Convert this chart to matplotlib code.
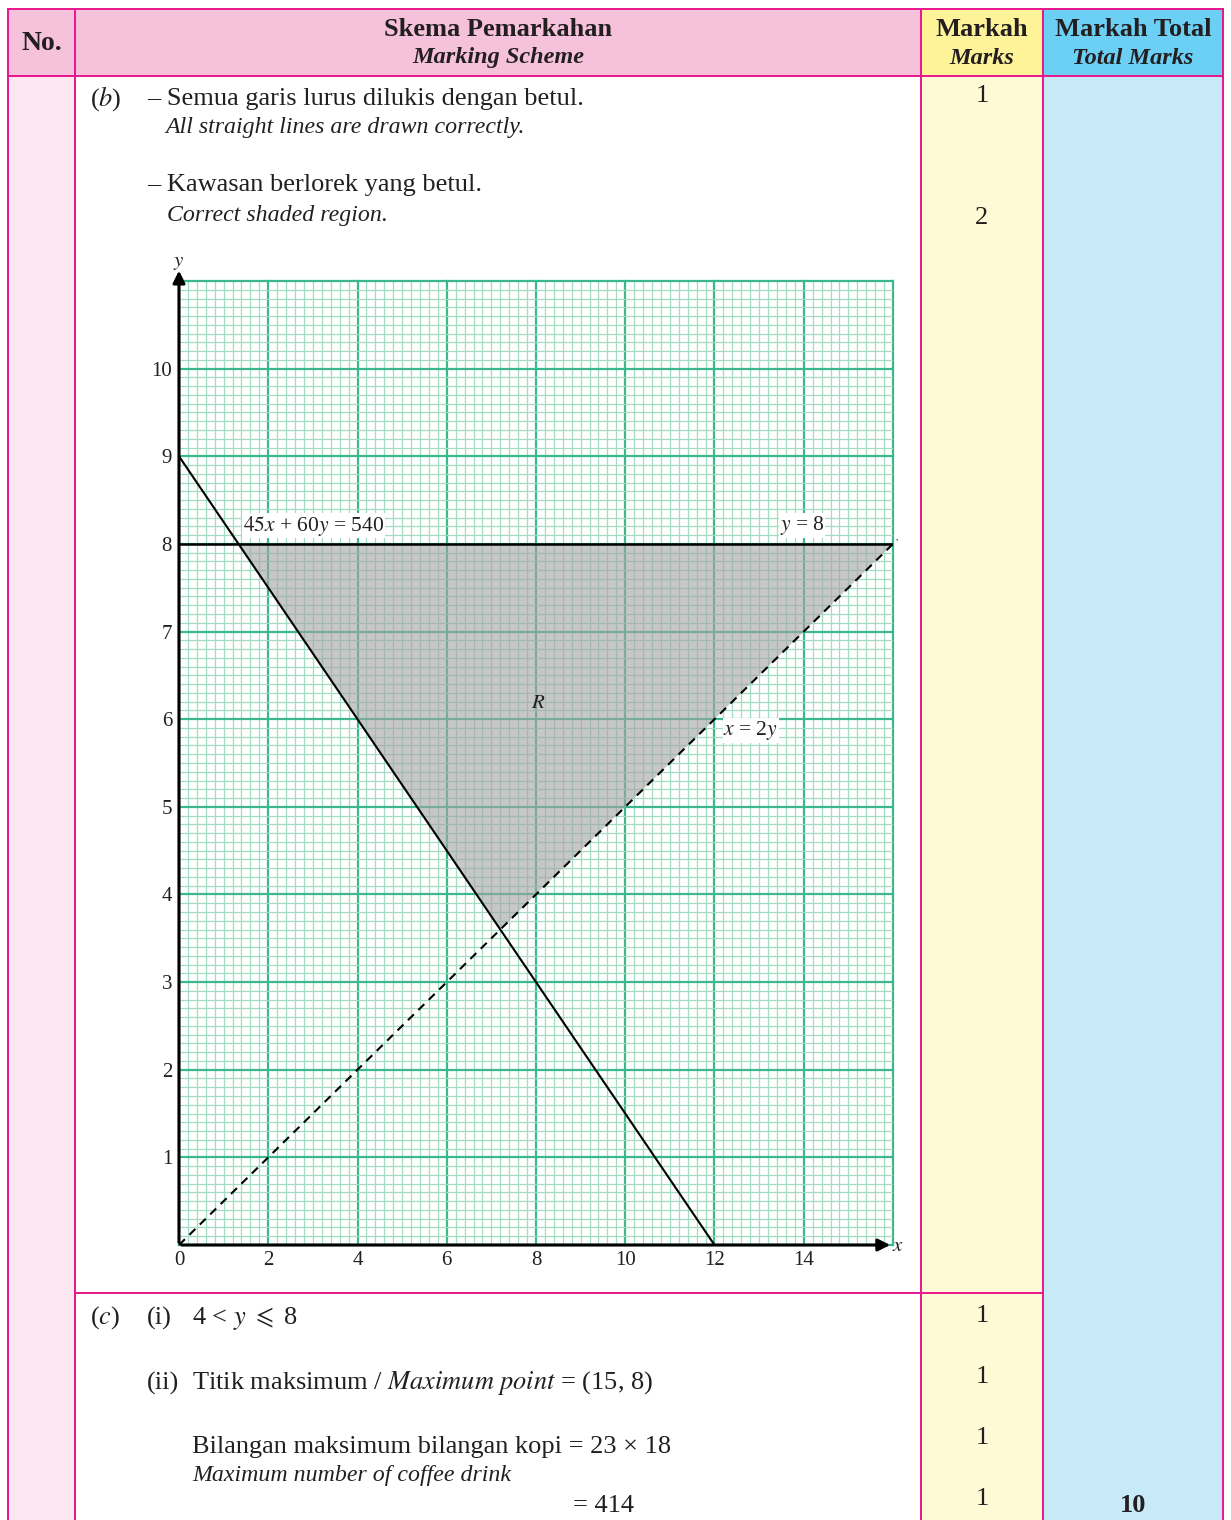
import matplotlib
matplotlib.use('Agg')
import matplotlib.pyplot as plt
from matplotlib.patches import Rectangle, Polygon
import numpy as np

plt.rcParams['font.family'] = ['Liberation Serif', 'DejaVu Serif']
plt.rcParams['mathtext.fontset'] = 'stix'

x_tick_vals = [0, 2, 4, 6, 8, 10, 12, 14]
y_tick_vals = [1, 2, 3, 4, 5, 6, 7, 8, 9, 10]

# 45x + 60y = 540
line1_x = [0, 12]
line1_y = [9, 0]
# y = 8
line2_x = [0, 16]
line2_y = [8, 8]
# x = 2y (dashed)
line3_x = [0, 16.1]
line3_y = [0, 8.05]
# shaded region R
region_x = [1.333, 16, 7.2]
region_y = [8, 8, 3.6]

marks_b = ['1', '2']
marks_c = ['1', '1', '1', '1']
total_marks = '10'

# colours
border = '#e8168c'
pink_head = '#f6c1da'
yellow_head = '#fff39a'
cyan_head = '#6ccff4'
pink_body = '#fde7f1'
yellow_body = '#fffad6'
cyan_body = '#c7e9f8'
grid_major = '#3cb98c'
grid_minor = '#a3dcc1'

W, H = 1231, 1520
fig = plt.figure(figsize=(W / 100, H / 100), dpi=100)
bg = fig.add_axes([0, 0, 1, 1])
bg.set_xlim(0, W)
bg.set_ylim(H, 0)
bg.axis('off')

# column edges
c0, c1, c2, c3, c4 = 8, 75, 921, 1043, 1223
top, head_bot, row_div = 9, 76, 1293

# header cells
bg.add_patch(Rectangle((c0, top), c2 - c0, head_bot - top, color=pink_head, lw=0))
bg.add_patch(Rectangle((c2, top), c3 - c2, head_bot - top, color=yellow_head, lw=0))
bg.add_patch(Rectangle((c3, top), c4 - c3, head_bot - top, color=cyan_head, lw=0))
# body cells
bg.add_patch(Rectangle((c0, head_bot), c1 - c0, H - head_bot, color=pink_body, lw=0))
bg.add_patch(Rectangle((c2, head_bot), c3 - c2, H - head_bot, color=yellow_body, lw=0))
bg.add_patch(Rectangle((c3, head_bot), c4 - c3, H - head_bot, color=cyan_body, lw=0))

lw = 1.4
bg.plot([c0, c4], [top, top], color=border, lw=lw)
bg.plot([c0, c4], [head_bot, head_bot], color=border, lw=lw)
bg.plot([c1, c3], [row_div, row_div], color=border, lw=lw)
for cx in [c0, c1, c2, c3, c4]:
    bg.plot([cx, cx], [top, H], color=border, lw=lw)

txt = '#231f20'
hs = 19
hsi = 17.5
# header text
bg.text((c0 + c1) / 2, 43, 'No.', ha='center', va='center', fontsize=20, weight='bold', color=txt)
bg.text((c1 + c2) / 2, 30, 'Skema Pemarkahan', ha='center', va='center', fontsize=hs, weight='bold', color=txt)
bg.text((c1 + c2) / 2, 58, 'Marking Scheme', ha='center', va='center', fontsize=hsi, weight='bold', style='italic', color=txt)
bg.text((c2 + c3) / 2, 30, 'Markah', ha='center', va='center', fontsize=hs, weight='bold', color=txt)
bg.text((c2 + c3) / 2, 58, 'Marks', ha='center', va='center', fontsize=hsi, weight='bold', style='italic', color=txt)
bg.text((c3 + c4) / 2, 30, 'Markah Total', ha='center', va='center', fontsize=hs, weight='bold', color=txt)
bg.text((c3 + c4) / 2, 58, 'Total Marks', ha='center', va='center', fontsize=hsi, weight='bold', style='italic', color=txt)

fs = 19
fsi = 17.2
# part (b)
bg.text(90, 99, r'($\mathit{b}$)', va='center', fontsize=fs, color=txt)
bg.text(147, 99, '– Semua garis lurus dilukis dengan betul.', va='center', fontsize=fs, color=txt)
bg.text(165, 127, 'All straight lines are drawn correctly.', va='center', fontsize=fsi, style='italic', color=txt)
bg.text(147, 185, '– Kawasan berlorek yang betul.', va='center', fontsize=fs, color=txt)
bg.text(167, 215, 'Correct shaded region.', va='center', fontsize=fsi, style='italic', color=txt)
for m, yy in zip(marks_b, [96, 218]):
    bg.text((c2 + c3) / 2, yy, m, ha='center', va='center', fontsize=fs, color=txt)

# part (c)
bg.text(90, 1318, r'($\mathit{c}$)', va='center', fontsize=fs, color=txt)
bg.text(147, 1318, '(i)', va='center', fontsize=fs, color=txt)
bg.text(192, 1318, r'4 < $y$ $\leqslant$ 8', va='center', fontsize=fs, color=txt)
bg.text(147, 1383, '(ii)', va='center', fontsize=fs, color=txt)
bg.text(192, 1383, r'Titik maksimum / $\mathit{Maximum\ point}$ = (15, 8)', va='center', fontsize=fs, color=txt)
bg.text(192, 1447, 'Bilangan maksimum bilangan kopi = 23 × 18', va='center', fontsize=fs, color=txt)
bg.text(192, 1476, 'Maximum number of coffee drink', va='center', fontsize=fsi, style='italic', color=txt)
bg.text(573, 1506, '= 414', va='center', fontsize=fs, color=txt)
for m, yy in zip(marks_c, [1316, 1377, 1438, 1499]):
    bg.text((c2 + c3) / 2, yy, m, ha='center', va='center', fontsize=fs, color=txt)
bg.text((c3 + c4) / 2, 1506, total_marks, ha='center', va='center', fontsize=fs, weight='bold', color=txt)

# --- graph ---
gx0, gx1 = 179, 893
gy0, gy1 = 1245, 281
ax = fig.add_axes([gx0 / W, (H - gy0) / H, (gx1 - gx0) / W, (gy0 - gy1) / H])
ax.set_facecolor('none')
ax.set_xlim(0, 16)
ax.set_ylim(0, 11)
ax.set_xticks(np.arange(0, 16.01, 2))
ax.set_xticks(np.arange(0, 16.01, 0.2), minor=True)
ax.set_yticks(np.arange(0, 11.01, 1))
ax.set_yticks(np.arange(0, 11.01, 0.1), minor=True)
ax.set_xticklabels([str(v) if v in x_tick_vals else '' for v in range(0, 17, 2)])
ax.set_yticklabels([str(v) if v in y_tick_vals else '' for v in range(0, 12)])
ax.tick_params(which='both', length=0)
ax.tick_params(axis='x', pad=4, labelsize=15, labelcolor=txt)
ax.tick_params(axis='y', pad=5, labelsize=15, labelcolor=txt)
ax.grid(which='minor', color=grid_minor, lw=0.9)
ax.grid(which='major', color=grid_major, lw=1.6)
for gl in ax.get_xgridlines() + ax.get_ygridlines():
    gl.set_clip_on(False)
for s in ax.spines.values():
    s.set_visible(False)

ax.add_patch(Polygon(list(zip(region_x, region_y)), closed=True, facecolor='#a3a3a3', alpha=0.6, lw=0, zorder=2))
ax.plot(line1_x, line1_y, color='black', lw=1.5, zorder=3)
ax.plot(line2_x, line2_y, color='black', lw=1.8, zorder=3)
ax.plot(line3_x, line3_y, color='black', lw=1.5, ls=(0, (4, 3)), zorder=3, clip_on=False)

# axes with arrows
ax.annotate('', xy=(0, 11.15), xytext=(0, 0), xycoords='data',
            arrowprops=dict(arrowstyle='-|>', color='black', lw=2.2, mutation_scale=18), annotation_clip=False, zorder=4)
ax.annotate('', xy=(16.0, 0), xytext=(0, 0), xycoords='data',
            arrowprops=dict(arrowstyle='-|>', color='black', lw=2.2, mutation_scale=18), annotation_clip=False, zorder=4)
ax.text(0, 11.21, r'$y$', ha='center', va='center', fontsize=15, color=txt)
ax.text(15.98, -0.02, r'$x$', ha='left', va='center', fontsize=15, color=txt)

box = dict(facecolor='white', edgecolor='none', pad=0.5)
ax.text(1.43, 8.21, r'$45x$ + 60$y$ = 540', va='center', fontsize=15.5, color=txt, bbox=box, zorder=5)
ax.text(13.46, 8.21, r'$y$ = 8', va='center', fontsize=15.5, color=txt, bbox=box, zorder=5)
ax.text(8.05, 6.18, r'$R$', ha='center', va='center', fontsize=15, color=txt, zorder=5)
ax.text(12.2, 5.87, r'$x$ = 2$y$', va='center', fontsize=15.5, color=txt, bbox=box, zorder=5)

fig.savefig('out.png', dpi=100)
